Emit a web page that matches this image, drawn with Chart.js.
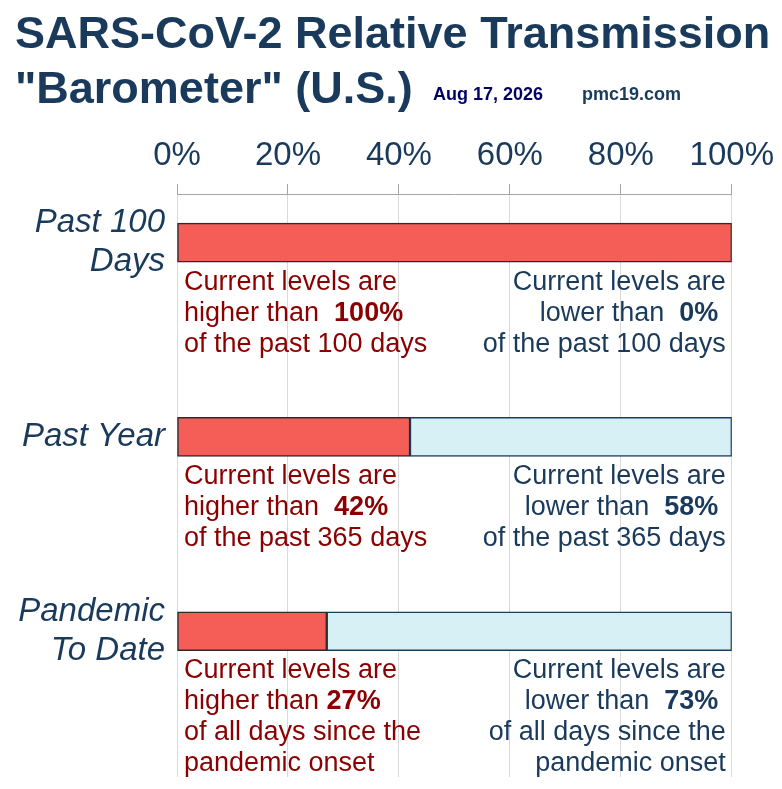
<!DOCTYPE html>
<html>
<head>
<meta charset="utf-8">
<script src="https://cdn.jsdelivr.net/npm/chart.js@4.4.1/dist/chart.umd.min.js"></script>
<style>
  html, body { margin: 0; padding: 0; background: #fff; }
  #wrap { width: 782px; height: 789px; position: relative; }
</style>
</head>
<body>
<div id="wrap"><canvas id="barometer"></canvas></div>
<script>
const categories = [['Past 100', 'Days'], ['Past Year'], ['Pandemic', 'To Date']];
const higherPct = [100, 42, 27];
const lowerPct = [0, 58, 73];
const tickLabels = ['0%', '20%', '40%', '60%', '80%', '100%'];
const higherLead = ['higher than  ', 'higher than  ', 'higher than '];
const lowerLead = ['lower than  ', 'lower than  ', 'lower than  '];
const periodText = [
    ['of the past 100 days'],
    ['of the past 365 days'],
    ['of all days since the', 'pandemic onset']
];
const titleLines = ['SARS-CoV-2 Relative Transmission', '"Barometer" (U.S.)'];
const dateText = 'Aug 17, 2026';
const siteText = 'pmc19.com';

const FONT = "'Liberation Sans', Arial, sans-serif";
const NAVY = '#1a3a5c';
const DARKRED = '#8b0000';

// header text above the axis
const headerPlugin = {
    id: 'header',
    afterDraw(chart) {
        const ctx = chart.ctx;
        ctx.save();
        ctx.textBaseline = 'alphabetic';
        ctx.textAlign = 'left';
        ctx.fillStyle = NAVY;
        ctx.font = 'bold 45px ' + FONT;
        ctx.fillText(titleLines[0], 15, 48);
        ctx.fillText(titleLines[1], 15, 103);
        ctx.font = 'bold 18px ' + FONT;
        ctx.fillStyle = '#000066';
        ctx.fillText(dateText, 433, 100);
        ctx.fillStyle = NAVY;
        ctx.fillText(siteText, 582, 100);
        ctx.restore();
    }
};

// the text blocks under each bar
const notesPlugin = {
    id: 'notes',
    afterDatasetsDraw(chart) {
        const {ctx, scales: {x, y}} = chart;
        const lineGap = 31;
        const normal = '27px ' + FONT;
        const bold = 'bold 27px ' + FONT;
        ctx.save();
        ctx.textBaseline = 'alphabetic';
        categories.forEach((c, i) => {
            const base = y.getPixelForValue(i + 0.25) + 47;
            const left = x.getPixelForValue(0) + 7;
            const right = x.getPixelForValue(100) - 6;

            // left block, red
            ctx.fillStyle = DARKRED;
            ctx.textAlign = 'left';
            ctx.font = normal;
            ctx.fillText('Current levels are', left, base);
            ctx.fillText(higherLead[i], left, base + lineGap);
            const lw = ctx.measureText(higherLead[i]).width;
            ctx.font = bold;
            ctx.fillText(higherPct[i] + '%', left + lw, base + lineGap);
            ctx.font = normal;
            periodText[i].forEach((t, k) => ctx.fillText(t, left, base + lineGap * (k + 2)));

            // right block, navy
            ctx.fillStyle = NAVY;
            ctx.textAlign = 'right';
            ctx.font = normal;
            ctx.fillText('Current levels are', right, base);
            ctx.font = bold;
            const val = lowerPct[i] + '% ';
            const vw = ctx.measureText(val).width;
            ctx.fillText(val, right, base + lineGap);
            ctx.font = normal;
            ctx.fillText(lowerLead[i], right - vw, base + lineGap);
            periodText[i].forEach((t, k) => ctx.fillText(t, right, base + lineGap * (k + 2)));
        });
        ctx.restore();
    }
};

const toPoints = arr => arr.map((v, i) => ({x: v, y: i + 0.25}));

new Chart(document.getElementById('barometer'), {
    type: 'bar',
    data: {
        datasets: [{
            label: 'Higher',
            data: toPoints(higherPct),
            backgroundColor: '#f45e56',
            borderColor: '#2b2b2b',
            borderWidth: 1.5,
            borderSkipped: false,
            barThickness: 39
        }, {
            label: 'Lower',
            data: toPoints(lowerPct),
            backgroundColor: '#d7f0f5',
            borderColor: '#1a3f5e',
            borderWidth: 1.5,
            borderSkipped: false,
            barThickness: 39
        }]
    },
    options: {
        indexAxis: 'y',
        responsive: true,
        maintainAspectRatio: false,
        animation: false,
        layout: { padding: { top: 0, left: 0, right: 48, bottom: 12 } },
        plugins: {
            legend: { display: false },
            tooltip: { enabled: false },
            title: { display: false }
        },
        scales: {
            x: {
                position: 'top',
                stacked: true,
                min: 0,
                max: 100,
                ticks: {
                    stepSize: 20,
                    callback: (v, i) => tickLabels[i],
                    color: NAVY,
                    font: { family: FONT, size: 33 },
                    padding: 8,
                    maxRotation: 0
                },
                grid: { color: '#d9d9d9', tickColor: '#a6a6a6', tickLength: 10 },
                border: { display: true, color: '#a6a6a6' },
                afterFit: s => { s.height = 194; }
            },
            y: {
                type: 'linear',
                reverse: true,
                stacked: true,
                offset: false,
                min: 0,
                max: 3,
                afterBuildTicks: s => { s.ticks = categories.map((c, i) => ({value: i + 0.25})); },
                ticks: {
                    autoSkip: false,
                    callback: (v, i) => categories[i],
                    color: NAVY,
                    font: { family: FONT, size: 33, style: 'italic', lineHeight: 1.17 },
                    padding: 4
                },
                grid: { display: false, offset: false },
                border: { display: false },
                afterFit: s => { s.width = 177; s.paddingTop = 0; s.paddingBottom = 0; }
            }
        }
    },
    plugins: [headerPlugin, notesPlugin]
});
</script>
</body>
</html>
